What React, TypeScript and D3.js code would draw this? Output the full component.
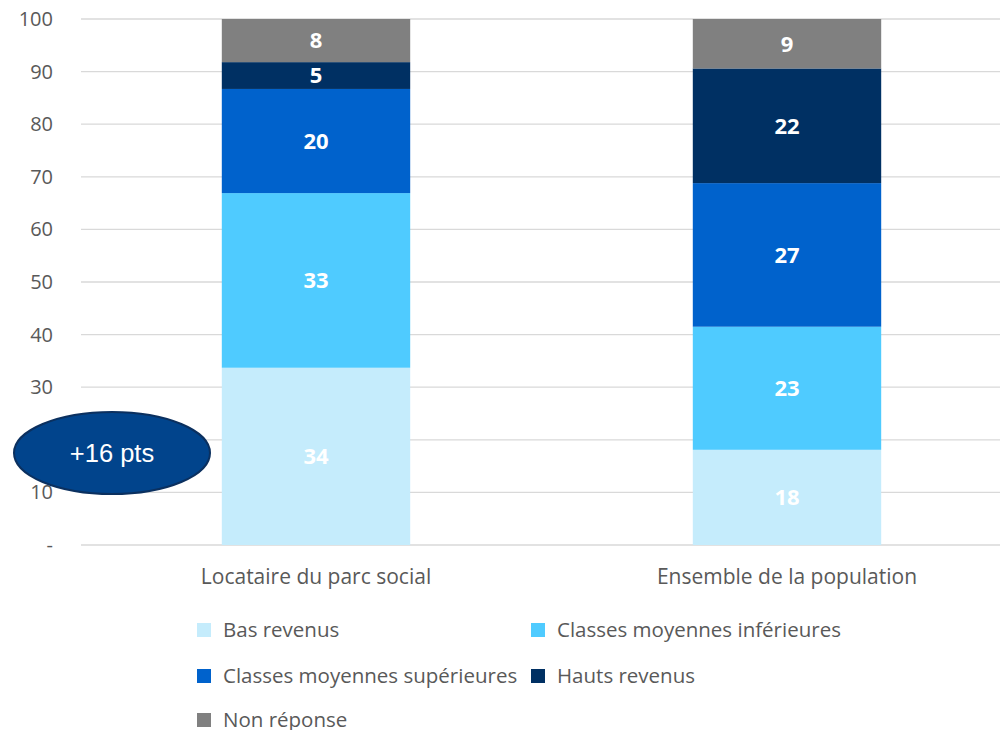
import React from "react";
import * as d3 from "d3";

const categories = ["Locataire du parc social", "Ensemble de la population"];
const seriesNames = [
  "Bas revenus",
  "Classes moyennes inférieures",
  "Classes moyennes supérieures",
  "Hauts revenus",
  "Non réponse",
];
const seriesColors = ["#c5ecfc", "#4fcbff", "#0062cc", "#003063", "#808080"];
// values per series, per category
const basRevenus = [33.7, 18.1];
const moyInf = [33.2, 23.4];
const moySup = [19.8, 27.3];
const hauts = [5.1, 21.8];
const nonRep = [8.2, 9.4];
const labelValues = [
  [34, 18],
  [33, 23],
  [20, 27],
  [5, 22],
  [8, 9],
];
const yTicks = [0, 10, 20, 30, 40, 50, 60, 70, 80, 90, 100];
const annotation = "+16 pts";

const FONT = "'Open Sans', 'Noto Sans', sans-serif";

export default function App() {
  const W = 1002;
  const H = 730;
  const y = d3.scaleLinear().domain([0, 100]).range([545, 19]);
  const x = d3
    .scaleBand<string>()
    .domain(categories)
    .range([80.5, 1022.5])
    .paddingInner(0.6)
    .paddingOuter(0.3);

  const series = [basRevenus, moyInf, moySup, hauts, nonRep];
  const rows = categories.map((c, i) => {
    const r: any = { cat: c };
    seriesNames.forEach((s, k) => (r[s] = series[k][i]));
    return r;
  });
  const stack = d3.stack<any>().keys(seriesNames)(rows);

  const legendItems = [
    { name: seriesNames[0], color: seriesColors[0], x: 197, y: 630 },
    { name: seriesNames[1], color: seriesColors[1], x: 531, y: 630 },
    { name: seriesNames[2], color: seriesColors[2], x: 197, y: 676 },
    { name: seriesNames[3], color: seriesColors[3], x: 531, y: 676 },
    { name: seriesNames[4], color: seriesColors[4], x: 197, y: 720 },
  ];

  return (
    <svg
      width={W}
      height={H}
      style={{ position: "absolute", left: 0, top: 0, background: "#fff" }}
      fontFamily={FONT}
    >
      {yTicks.map((t) => (
        <g key={t}>
          <line x1={81} x2={1000} y1={y(t)} y2={y(t)} stroke="#d9d9d9" strokeWidth={1.3} />
          <text
            x={53}
            y={y(t)}
            dy="0.35em"
            textAnchor="end"
            fontSize={20}
            fill="#595959"
          >
            {t === 0 ? "-" : t}
          </text>
        </g>
      ))}
      {stack.map((layer, k) => (
        <g key={layer.key}>
          {layer.map((d, i) => {
            const x0 = x(categories[i])!;
            const y0 = y(d[1]);
            const h = y(d[0]) - y(d[1]);
            return (
              <g key={i}>
                <rect x={x0} y={y0} width={x.bandwidth()} height={h} fill={seriesColors[k]} />
                <text
                  x={x0 + x.bandwidth() / 2}
                  y={y0 + h / 2}
                  dy="0.36em"
                  textAnchor="middle"
                  fontSize={22}
                  fontWeight="bold"
                  fill="#ffffff"
                >
                  {labelValues[k][i]}
                </text>
              </g>
            );
          })}
        </g>
      ))}
      {categories.map((c) => (
        <text
          key={c}
          x={x(c)! + x.bandwidth() / 2}
          y={584}
          textAnchor="middle"
          fontSize={21}
          fill="#595959"
        >
          {c}
        </text>
      ))}
      {legendItems.map((l) => (
        <g key={l.name}>
          <rect x={l.x} y={l.y - 7} width={14} height={14} fill={l.color} />
          <text x={l.x + 26} y={l.y} dy="0.35em" fontSize={20.5} fill="#595959">
            {l.name}
          </text>
        </g>
      ))}
      <ellipse cx={112} cy={453} rx={98} ry={41} fill="#01448c" stroke="#0b305f" strokeWidth={2} />
      <text
        x={112}
        y={453}
        dy="0.35em"
        textAnchor="middle"
        fontSize={25.5}
        fill="#ffffff"
        fontFamily="'Liberation Sans', Arial, sans-serif"
      >
        {annotation}
      </text>
    </svg>
  );
}
